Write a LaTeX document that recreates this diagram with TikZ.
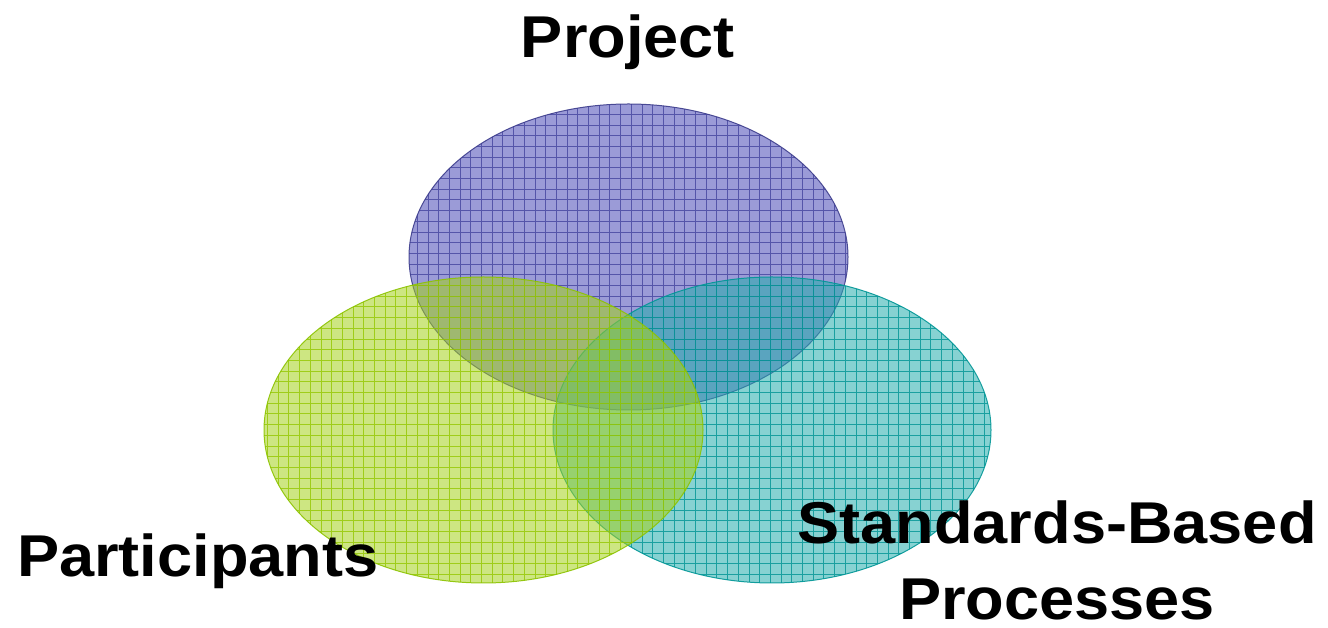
\documentclass[tikz,border=0pt]{standalone}
\usepackage{fontspec}
\setmainfont{Liberation Sans}
\definecolor{pfill}{RGB}{73,73,182}
\definecolor{pgrid}{RGB}{68,68,159}
\definecolor{pedge}{RGB}{60,60,140}
\definecolor{gfill}{RGB}{164,209,28}
\definecolor{ggrid}{RGB}{149,199,0}
\definecolor{gedge}{RGB}{140,195,0}
\definecolor{tfill}{RGB}{37,173,173}
\definecolor{tgrid}{RGB}{0,148,148}
\definecolor{tedge}{RGB}{0,150,150}
\tikzset{
  label text/.style={font=\fontsize{59}{66}\selectfont\bfseries, inner sep=0pt, text=black},
  gridline/.style={line width=1pt, draw opacity=0.8},
  areafill/.style={fill opacity=0.55},
  edge/.style={line width=1pt, draw opacity=0.9}
}
\newcommand{\vennset}[6]{%
  % #1 x, #2 y, #3 rx, #4 fill, #5 grid, #6 edge
  \begin{scope}
    \clip (#1,#2) ellipse [x radius=#3, y radius=153];
    \fill[areafill,#4] (#1,#2) ellipse [x radius=#3, y radius=153];
    \draw[gridline,#5,step=10.7pt] (0,0) grid (1328,628);
  \end{scope}
  \draw[edge,#6] (#1,#2) ellipse [x radius=#3, y radius=153];
}
\begin{document}
\begin{tikzpicture}[x=1pt,y=1pt]
\useasboundingbox (0,0) rectangle (1328,628);
\vennset{628.5}{371}{219.5}{pfill}{pgrid}{pedge}
\vennset{772}{198}{219}{tfill}{tgrid}{tedge}
\vennset{483.5}{198}{219.5}{gfill}{ggrid}{gedge}
\node[label text, anchor=base] (project) at (628,570) {\scalebox{1.07}[1]{Project}};
\node[label text, anchor=base west] (participants) at (17,51) {\scalebox{1.07}[1]{Participants}};
\node[label text, anchor=base] (standards) at (1057,84) {\scalebox{1.07}[1]{Standards-Based}};
\node[label text, anchor=base] (processes) at (1057,8) {\scalebox{1.07}[1]{Processes}};
\end{tikzpicture}
\end{document}
